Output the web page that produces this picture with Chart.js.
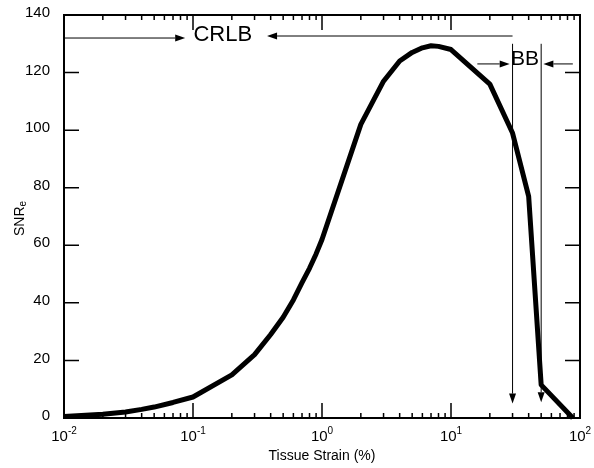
<!DOCTYPE html>
<html>
<head>
<meta charset="utf-8">
<script src="https://cdn.jsdelivr.net/npm/chart.js@4.4.1/dist/chart.umd.min.js"></script>
<style>
  html, body { margin: 0; padding: 0; background: #fff; }
  #wrap { width: 594px; height: 468px; }
</style>
</head>
<body>
<div id="wrap"><canvas id="snrChart"></canvas></div>
<script>
// tissue strain (%) and SNRe
const strain = [0.01, 0.02, 0.03, 0.04, 0.05, 0.07, 0.1, 0.2, 0.3, 0.4, 0.5, 0.6, 0.7, 0.8, 0.9, 1, 2, 3, 4, 5, 6, 7, 8, 10, 20, 30, 40, 50, 88];
const snr = [0.5, 1.3, 2.1, 3.0, 3.8, 5.4, 7.3, 15, 22, 29, 35, 41, 47, 52, 57, 62, 102, 117, 124, 127, 128.6, 129.3, 129.1, 128, 116, 99, 77, 11.5, 0];

const xDecades = [0.01, 0.1, 1, 10, 100];
const xExponents = ['-2', '-1', '0', '1', '2'];
const yTicks = [0, 20, 40, 60, 80, 100, 120, 140];

// annotation marks, in data units (strain %, SNRe)
const crlbLabel = { text: 'CRLB', x: 0.17, y: 133 };
const bbLabel = { text: 'BB', x: 37.5, y: 124.5 };
const arrows = [
    { from: [0.01, 132], to: [0.087, 132] },
    { from: [30, 132.7], to: [0.375, 132.7] },
    { from: [16, 123], to: [28.5, 123] },
    { from: [88, 123], to: [52, 123] },
    { from: [30, 130], to: [30, 5] },
    { from: [50, 130], to: [50, 5.5] }
];

const FONT = '"Liberation Sans", Arial, sans-serif';

function drawArrow(ctx, x1, y1, x2, y2) {
    const ang = Math.atan2(y2 - y1, x2 - x1);
    const len = 10, hw = 3.5;
    const c = Math.cos(ang), s = Math.sin(ang);
    const bx = x2 - len * c, by = y2 - len * s;
    ctx.beginPath();
    ctx.moveTo(x1, y1);
    ctx.lineTo(bx, by);
    ctx.stroke();
    ctx.beginPath();
    ctx.moveTo(x2, y2);
    ctx.lineTo(bx + hw * s, by - hw * c);
    ctx.lineTo(bx - hw * s, by + hw * c);
    ctx.closePath();
    ctx.fill();
}

const frameAndNotes = {
    id: 'frameAndNotes',
    afterDatasetsDraw(chart) {
        const { ctx, chartArea: a, scales: { x, y } } = chart;
        ctx.save();
        ctx.strokeStyle = '#000';
        ctx.fillStyle = '#000';

        // box
        ctx.lineWidth = 2;
        ctx.strokeRect(a.left, a.top, a.right - a.left, a.bottom - a.top);

        // inward ticks on all four sides
        ctx.lineWidth = 1.5;
        ctx.beginPath();
        yTicks.forEach(v => {
            const py = y.getPixelForValue(v);
            ctx.moveTo(a.left, py); ctx.lineTo(a.left + 15, py);
            ctx.moveTo(a.right, py); ctx.lineTo(a.right - 15, py);
        });
        xDecades.forEach((d, i) => {
            const px = x.getPixelForValue(d);
            ctx.moveTo(px, a.bottom); ctx.lineTo(px, a.bottom - 15);
            ctx.moveTo(px, a.top); ctx.lineTo(px, a.top + 15);
            if (i < xDecades.length - 1) {
                for (let k = 2; k <= 9; k++) {
                    const pm = x.getPixelForValue(d * k);
                    ctx.moveTo(pm, a.bottom); ctx.lineTo(pm, a.bottom - 5);
                    ctx.moveTo(pm, a.top); ctx.lineTo(pm, a.top + 5);
                }
            }
        });
        ctx.stroke();

        // x tick labels 10^n
        ctx.textAlign = 'left';
        ctx.textBaseline = 'alphabetic';
        xDecades.forEach((d, i) => {
            const px = x.getPixelForValue(d);
            ctx.font = '15px ' + FONT;
            const wBase = ctx.measureText('10').width;
            ctx.font = '10px ' + FONT;
            const wSup = ctx.measureText(xExponents[i]).width;
            const x0 = px - (wBase + wSup) / 2;
            ctx.font = '15px ' + FONT;
            ctx.fillText('10', x0, a.bottom + 23);
            ctx.font = '10px ' + FONT;
            ctx.fillText(xExponents[i], x0 + wBase, a.bottom + 15.5);
        });

        // y title SNR_e
        ctx.save();
        ctx.translate(24, (a.top + a.bottom) / 2 + 2);
        ctx.rotate(-Math.PI / 2);
        ctx.font = '14px ' + FONT;
        const wMain = ctx.measureText('SNR').width;
        ctx.font = '10px ' + FONT;
        const wSub = ctx.measureText('e').width;
        const t0 = -(wMain + wSub) / 2;
        ctx.font = '14px ' + FONT;
        ctx.fillText('SNR', t0, 0);
        ctx.font = '10px ' + FONT;
        ctx.fillText('e', t0 + wMain, 2);
        ctx.restore();

        // annotations
        ctx.lineWidth = 1;
        arrows.forEach(ar => {
            drawArrow(ctx,
                x.getPixelForValue(ar.from[0]), y.getPixelForValue(ar.from[1]),
                x.getPixelForValue(ar.to[0]), y.getPixelForValue(ar.to[1]));
        });
        ctx.textAlign = 'center';
        ctx.textBaseline = 'middle';
        ctx.font = '22px ' + FONT;
        ctx.fillText(crlbLabel.text, x.getPixelForValue(crlbLabel.x), y.getPixelForValue(crlbLabel.y));
        ctx.font = '21px ' + FONT;
        ctx.fillText(bbLabel.text, x.getPixelForValue(bbLabel.x), y.getPixelForValue(bbLabel.y));
        ctx.restore();
    }
};

const ctx = document.getElementById('snrChart').getContext('2d');

new Chart(ctx, {
    type: 'line',
    data: {
        datasets: [{
            label: 'SNRe',
            data: strain.map((s, i) => ({ x: s, y: snr[i] })),
            borderColor: '#000',
            borderWidth: 5,
            borderJoinStyle: 'round',
            pointRadius: 0,
            fill: false,
            tension: 0,
            clip: 3
        }]
    },
    options: {
        responsive: true,
        maintainAspectRatio: false,
        animation: false,
        layout: { padding: { left: 0, right: 14, top: 13, bottom: 0 } },
        plugins: {
            legend: { display: false },
            tooltip: { enabled: false }
        },
        scales: {
            x: {
                type: 'logarithmic',
                min: 0.01,
                max: 100,
                grid: { display: false },
                border: { display: false },
                ticks: { display: false },
                title: {
                    display: true,
                    text: 'Tissue Strain (%)',
                    color: '#000',
                    font: { family: FONT, size: 14 },
                    padding: { top: 0, bottom: 3 }
                },
                afterFit(scale) { scale.height = 50; }
            },
            y: {
                min: 0,
                max: 140,
                grid: { display: false },
                border: { display: false },
                ticks: {
                    stepSize: 20,
                    color: '#000',
                    font: { family: FONT, size: 15 },
                    padding: 6,
                    labelOffset: -2
                },
                afterFit(scale) { scale.width = 64; }
            }
        }
    },
    plugins: [frameAndNotes]
});
</script>
</body>
</html>
